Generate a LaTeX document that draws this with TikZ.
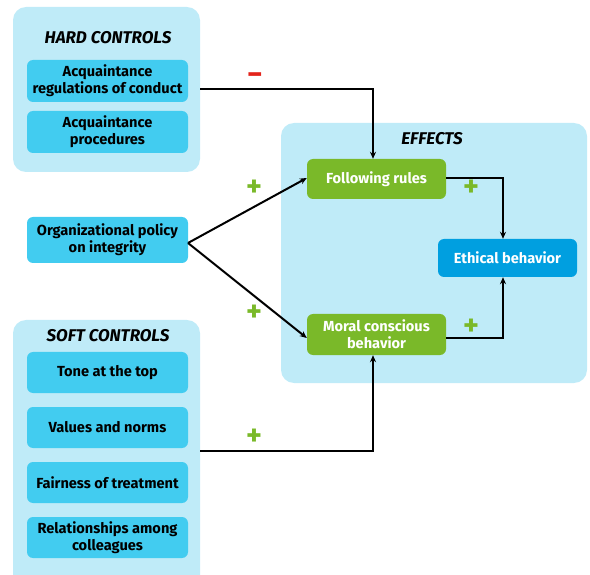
\documentclass[tikz,border=0pt]{standalone}
\usepackage{fontspec}
\setmainfont{Fira Sans}
\usetikzlibrary{arrows.meta}
\definecolor{panelc}{HTML}{BFEBF8}
\definecolor{nodec}{HTML}{42CCF0}
\definecolor{greenc}{HTML}{7AB929}
\definecolor{bluec}{HTML}{009FE0}
\definecolor{redc}{HTML}{E3231B}
\tikzset{
  panel/.style={fill=panelc, draw=none, rounded corners=13pt},
  ctrl/.style={fill=nodec, draw=none, rounded corners=6pt, minimum width=161pt, align=center, font=\fontsize{14.6}{17}\selectfont\bfseries, text=black, inner sep=0pt},
  eff/.style={fill=greenc, draw=none, rounded corners=6pt, minimum width=139pt, align=center, font=\fontsize{14.6}{17}\selectfont\bfseries, text=white, inner sep=0pt},
  ttl/.style={font=\fontsize{17}{19}\selectfont\bfseries\itshape, text=black},
  conn/.style={line width=2pt, black},
  arr/.style={conn, -{Stealth[length=7pt,width=6pt]}},
  sign/.style={font=\fontsize{30}{30}\selectfont\bfseries, inner sep=0pt},
}
\begin{document}
\begin{tikzpicture}[x=1pt,y=-1pt]
\useasboundingbox (0,0) rectangle (590,575);
% panels
\fill[panel] (13,7) rectangle (200,172);
\fill[panel] (13,320) rectangle (200,590);
\fill[panel] (281,123) rectangle (587,383);
\node[ttl] (th) at (108,38) {HARD CONTROLS};
\node[ttl] (ts) at (108,336) {SOFT CONTROLS};
\node[ttl] (te) at (432,139) {EFFECTS};
% hard controls
\node[ctrl, minimum height=42pt] (h1) at (107.5,81) {Acquaintance\\regulations of conduct};
\node[ctrl, minimum height=42pt] (h2) at (107.5,132) {Acquaintance\\procedures};
% policy
\node[ctrl, minimum height=46pt] (pol) at (107.5,240) {Organizational policy\\on integrity};
% soft controls
\node[ctrl, minimum height=41pt] (s1) at (107.5,372.5) {Tone at the top};
\node[ctrl, minimum height=41pt] (s2) at (107.5,427.5) {Values and norms};
\node[ctrl, minimum height=41pt] (s3) at (107.5,482.5) {Fairness of treatment};
\node[ctrl, minimum height=41pt] (s4) at (107.5,537.5) {Relationships among\\colleagues};
% effects
\node[eff, minimum height=40pt] (fr) at (376.5,179) {Following rules};
\node[eff, minimum height=41pt] (mc) at (376.5,334.5) {Moral conscious\\behavior};
\node[fill=bluec, draw=none, rounded corners=6pt, minimum width=139pt, minimum height=38pt, font=\fontsize{14.6}{17}\selectfont\bfseries, text=white, inner sep=0pt] (eb) at (507.5,258) {Ethical behavior};
% connectors
\coordinate (hk) at (373,89);
\coordinate (sk) at (373,451);
\coordinate (fork) at (188,243);
\coordinate (fk) at (503,178);
\coordinate (mk) at (503,338);
\draw[arr] (200,89) -- (hk) -- (fr.north -| hk);
\draw[arr] (200,451) -- (sk) -- (mc.south -| sk);
\draw[arr] (fork) -- (fr.west |- 0,178);
\draw[arr] (fork) -- (mc.west |- 0,338);
\draw[arr] (fr.east |- fk) -- (fk) -- (eb.north -| fk);
\draw[arr] (mc.east |- mk) -- (mk) -- (eb.south -| mk);
% signs
\node[sign, text=redc] (m1) at (255,79) {−};
\node[sign, text=greenc] (p1) at (254,188) {+};
\node[sign, text=greenc] (p2) at (254,313) {+};
\node[sign, text=greenc] (p3) at (471,188) {+};
\node[sign, text=greenc] (p4) at (471,327) {+};
\node[sign, text=greenc] (p5) at (254,437) {+};
\end{tikzpicture}
\end{document}
